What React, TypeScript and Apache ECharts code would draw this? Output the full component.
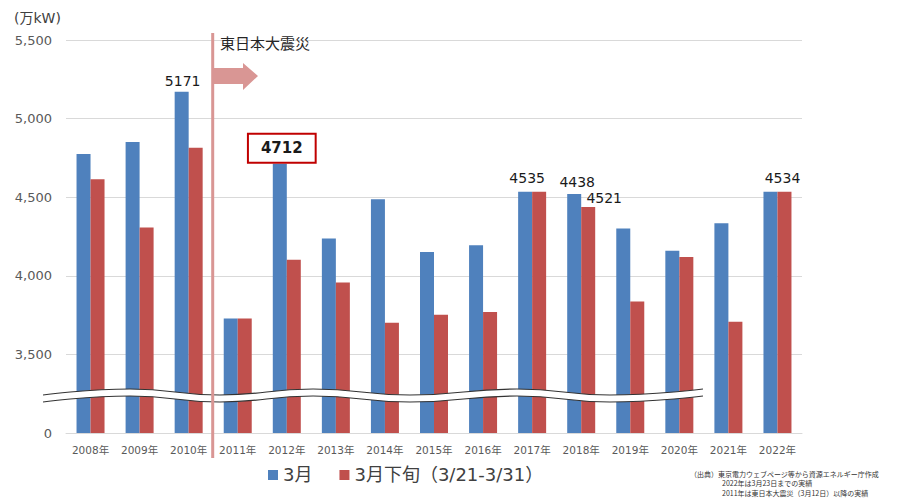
import React, { useEffect, useRef } from "react";
import * as echarts from "echarts";

// ---- data ----
const years = [
  "2008年", "2009年", "2010年", "2011年", "2012年", "2013年", "2014年", "2015年",
  "2016年", "2017年", "2018年", "2019年", "2020年", "2021年", "2022年",
];
const march = [4775, 4851, 5171, 3729, 4712, 4237, 4487, 4151, 4195, 4535, 4521, 4301, 4159, 4335, 4534];
const lateMarch = [4614, 4307, 4815, 3729, 4102, 3957, 3701, 3752, 3769, 4535, 4438, 3837, 4119, 3708, 4534];
const marchLabels: (string | null)[] = [null, null, "5171", null, "4712", null, null, null, null, "4535", "4438", null, null, null, null];
const lateLabels: (string | null)[] = [null, null, null, null, null, null, null, null, null, null, "4521", null, null, null, "4534"];
const seriesNames = ["3月", "3月下旬（3/21-3/31）"];
const yMin = 3000;
const yMax = 5500;
const yInterval = 500;
const unitLabel = "(万kW)";
const eventLabel = "東日本大震災";
const notes = [
  "（出典）東京電力ウェブページ等から資源エネルギー庁作成",
  "2022年は3月23日までの実績",
  "2011年は東日本大震災（3月12日）以降の実績",
];

const FONT = "'DejaVu Sans', 'Noto Sans CJK JP', sans-serif";
const NOTE_FONT = "'Noto Sans CJK JP', sans-serif";
const BLUE = "#4f81bd";
const RED = "#c0504d";
const PINK = "#d99694";

const GRID = { left: 66, right: 98, top: 40, bottom: 66 };

// per-label style tweaks (by index)
const marchLabelStyle: Record<number, any> = {
  2: { distance: 4, offset: [1, 0] },
  4: {
    distance: 2,
    offset: [2, 0],
    fontWeight: "bold",
    fontSize: 15,
    backgroundColor: "#fff",
    borderColor: "#c00000",
    borderWidth: 2,
    padding: [6, 12, 6, 12],
  },
  9: { distance: 7, offset: [2, 0] },
  10: { distance: 5, offset: [3, 0] },
};
const lateLabelStyle: Record<number, any> = {
  10: { distance: 2, offset: [16, 0] },
  14: { distance: 7, offset: [-2, 0] },
};

function buildData(values: number[], labels: (string | null)[], styles: Record<number, any>) {
  return values.map((v, i) => {
    const t = labels[i];
    if (!t) return v;
    return {
      value: v,
      label: {
        show: true,
        position: "top",
        formatter: t,
        fontFamily: FONT,
        fontSize: 14,
        color: "#1a1a1a",
        ...(styles[i] || {}),
      },
    };
  });
}

export default function App() {
  const ref = useRef<HTMLDivElement>(null);

  useEffect(() => {
    if (!ref.current) return;
    const chart = echarts.init(ref.current, undefined, { renderer: "svg" });

    const catW = (900 - GRID.left - GRID.right) / years.length;
    const lineX = GRID.left + 3 * catW - 0.5;

    // wave decoration (axis break)
    const wavePts: number[][] = [
      [43, 398.5], [130, 392.5], [220, 398.5], [313, 392.5], [410, 398.5],
      [517, 392.5], [610, 398.5], [703, 392.5],
    ];
    const shift = (d: number) => wavePts.map((p) => [p[0], p[1] + d]);

    const noteText = (text: string, left: number, top: number) => ({
      type: "text",
      z: 110,
      left,
      top,
      style: { text, fontSize: 7, lineHeight: 8, fill: "#333", fontFamily: NOTE_FONT },
    });

    chart.setOption({
      animation: false,
      textStyle: { fontFamily: FONT },
      grid: { ...GRID, containLabel: false },
      legend: {
        left: 268,
        top: 466,
        padding: 0,
        itemWidth: 10,
        itemHeight: 10,
        itemGap: 27,
        icon: "rect",
        textStyle: { fontSize: 18, color: "#404040", fontFamily: FONT },
        data: seriesNames,
      },
      xAxis: {
        type: "category",
        data: years,
        axisLine: { lineStyle: { color: "#d9d9d9", width: 1 } },
        axisTick: { show: false },
        axisLabel: { fontSize: 10.5, color: "#595959", margin: 12, fontFamily: FONT },
      },
      yAxis: {
        type: "value",
        min: yMin,
        max: yMax,
        interval: yInterval,
        axisLine: { show: false },
        axisTick: { show: false },
        splitLine: { lineStyle: { color: "#d9d9d9", width: 1 } },
        axisLabel: {
          fontSize: 13,
          color: "#595959",
          margin: 14,
          fontFamily: FONT,
          formatter: (v: number) => (v === yMin ? "0" : v.toLocaleString("en-US")),
        },
      },
      series: [
        {
          name: seriesNames[0],
          type: "bar",
          barWidth: 14,
          barGap: "0%",
          itemStyle: { color: BLUE },
          data: buildData(march, marchLabels, marchLabelStyle),
        },
        {
          name: seriesNames[1],
          type: "bar",
          barWidth: 14,
          barGap: "0%",
          itemStyle: { color: RED },
          data: buildData(lateMarch, lateLabels, lateLabelStyle),
        },
      ],
      graphic: [
        {
          type: "polyline",
          z: 100,
          silent: true,
          shape: { points: wavePts, smooth: 0.5 },
          style: { stroke: "#fff", lineWidth: 7, fill: null },
        },
        {
          type: "polyline",
          z: 101,
          silent: true,
          shape: { points: shift(-3.5), smooth: 0.5 },
          style: { stroke: "#333", lineWidth: 1.2, fill: null },
        },
        {
          type: "polyline",
          z: 101,
          silent: true,
          shape: { points: shift(3.5), smooth: 0.5 },
          style: { stroke: "#333", lineWidth: 1.2, fill: null },
        },
        {
          type: "rect",
          z: 110,
          silent: true,
          shape: { x: lineX - 1.5, y: 33, width: 3, height: 425 },
          style: { fill: PINK },
        },
        {
          type: "polygon",
          z: 110,
          silent: true,
          shape: {
            points: [
              [lineX + 1, 68],
              [243, 68],
              [243, 63],
              [258, 76],
              [243, 90],
              [243, 84],
              [lineX + 1, 84],
            ],
          },
          style: { fill: PINK },
        },
        {
          type: "text",
          z: 110,
          left: 220,
          top: 36,
          style: { text: eventLabel, fontSize: 15, fill: "#262626", fontFamily: FONT },
        },
        {
          type: "text",
          z: 110,
          left: 14,
          top: 11,
          style: { text: unitLabel, fontSize: 14, fill: "#404040", fontFamily: FONT },
        },
        noteText(notes[0], 690, 469.5),
        noteText(notes[1], 722, 479),
        noteText(notes[2], 722, 488.5),
      ],
    });

    return () => chart.dispose();
  }, []);

  return (
    <div
      ref={ref}
      style={{ position: "absolute", left: 0, top: 0, width: 900, height: 499, background: "#fff" }}
    />
  );
}
